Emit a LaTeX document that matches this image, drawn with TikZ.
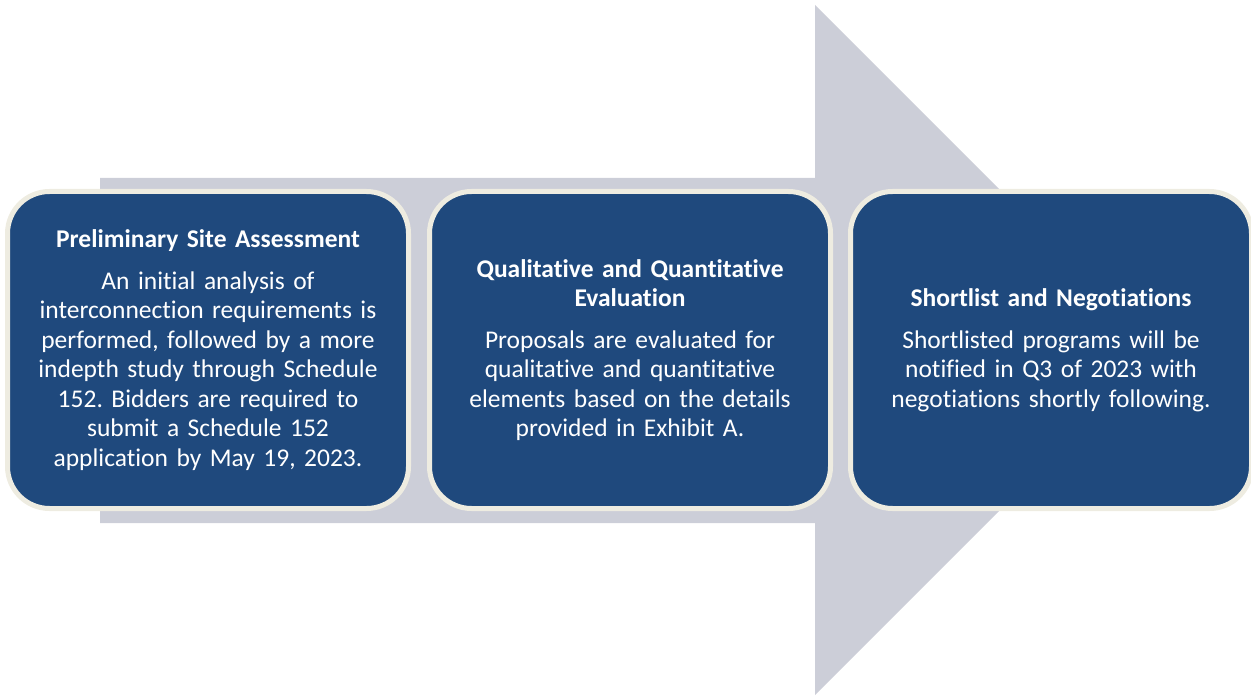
\documentclass[tikz,border=0pt]{standalone}
\usepackage{fontspec}
\setmainfont{Carlito}[Ligatures=NoCommon]
\usetikzlibrary{positioning}
\frenchspacing

\definecolor{arrowgray}{RGB}{204,206,216}
\definecolor{boxblue}{RGB}{31,73,125}
\definecolor{boxrim}{RGB}{238,236,225}

\begin{document}
\begin{tikzpicture}[x=1pt,y=-1pt,
    stage/.style={draw=boxrim, fill=boxblue, line width=5pt, rounded corners=42pt,
      minimum width=401pt, minimum height=317pt, text width=385pt, align=center,
      text=white, inner sep=0pt, font=\fontsize{25.5}{29.5}\selectfont}]
    \useasboundingbox (0,0) rectangle (1251,698);
    \coordinate (S1) at (100, 178);
    \coordinate (S2) at (815, 178);
    \coordinate (H1) at (815, 5);
    \coordinate (T) at (1160, 350);
    \coordinate (H2) at (815, 695);
    \coordinate (S3) at (815, 523);
    \coordinate (S4) at (100, 523);

    % big arrow behind the boxes
    \fill[arrowgray] (S1) -- (S2) -- (H1) -- (T) -- (H2) -- (S3) -- (S4) -- cycle;

    % stages
    \node[stage] (prelim) at (208, 350) {\textbf{Preliminary Site Assessment}\\[12.5pt]
      An initial analysis of\\ interconnection requirements is\\ performed, followed by a more\\
      indepth study through Schedule\\ 152. Bidders are required to\\ submit a Schedule 152\\
      application by May 19, 2023.};
    \node[stage, right=16pt of prelim] (evalu) {\textbf{Qualitative and Quantitative}\\ \textbf{Evaluation}\\[12pt]
      Proposals are evaluated for\\ qualitative and quantitative\\ elements based on the details\\
      provided in Exhibit A.};
    \node[stage, right=15pt of evalu] (short) {\textbf{Shortlist and Negotiations}\\[12pt]
      Shortlisted programs will be\\ notified in Q3 of 2023 with\\ negotiations shortly following.};
\end{tikzpicture}
\end{document}
